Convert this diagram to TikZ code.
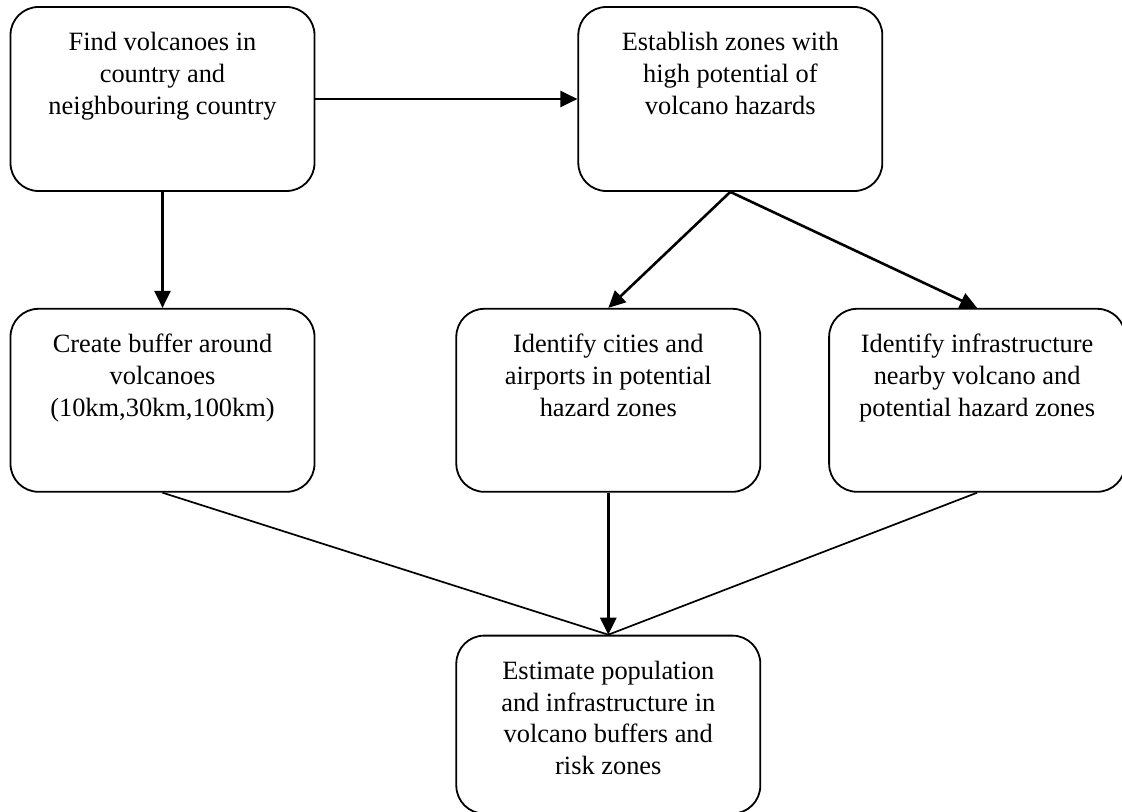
\documentclass[tikz,border=0pt]{standalone}
\usepackage{fontspec}
\setmainfont{Liberation Serif}
\usetikzlibrary{arrows.meta,positioning}

\begin{document}
\begin{tikzpicture}[>={Triangle[length=8.5pt,width=8pt]},
    proc/.style={draw,line width=0.9pt,rounded corners=14pt,text width=144pt,
      align=flush center,inner xsep=4pt,inner ysep=0pt,text height=22pt,text depth=69.5pt,
      font=\fontsize{13.2}{15.8}\selectfont}]
      \useasboundingbox (0,0) rectangle (561pt,-406pt);

      \node[proc,text depth=70pt] (find) at (81.25pt,-49.5pt) {Find volcanoes in\\ country and\\ neighbouring country};
      \node[proc,text depth=70pt] (zones) [right=131pt of find] {Establish zones with\\ high potential of\\ volcano hazards};
      \node[proc] (buffer) [below=58pt of find] {Create buffer around\\ volcanoes\\ (10km,30km,100km)};
      \node[proc] (cities) [right=70pt of buffer] {Identify cities and\\ airports in potential\\ hazard zones};
      \node[proc,text width=140pt] (infra) [right=33.5pt of cities] {Identify infrastructure\\ nearby volcano and\\ potential hazard zones};
      \node[proc,text depth=67pt] (estimate) [below=71pt of cities] {Estimate population\\ and infrastructure in\\ volcano buffers and\\ risk zones};

      \path[->,line width=1.3pt]
      (find) edge (zones)
      (find) edge (buffer)

      (zones.south) edge (cities.north)
      (zones.south) edge (infra.north)

      (cities) edge (estimate)
      ;

      \path[line width=0.85pt]
      (buffer.south) edge (estimate.north)
      (infra.south) edge (estimate.north)
      ;
    \end{tikzpicture}
\end{document}
